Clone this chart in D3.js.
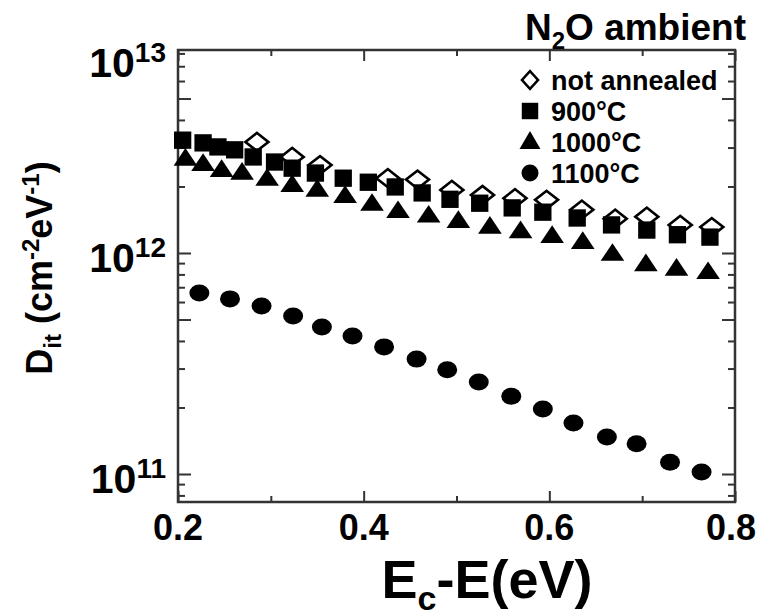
<!DOCTYPE html>
<html>
<head>
<meta charset="utf-8">
<script src="https://cdn.jsdelivr.net/npm/d3@7.9.0/dist/d3.min.js"></script>
<style>
  body { margin: 0; background: #fff; }
  svg { display: block; font-family: "Liberation Sans", Arial, sans-serif; font-weight: bold; }
</style>
</head>
<body>
<svg id="chart" width="758" height="616"></svg>
<script>
// Data (x in eV, Dit in cm^-2 eV^-1)
const notAnnealedX = [0.285, 0.323, 0.353, 0.426, 0.458, 0.495, 0.528, 0.563, 0.597, 0.635, 0.671, 0.705, 0.741, 0.775];
const notAnnealedY = [3.18e12, 2.72e12, 2.50e12, 2.18e12, 2.15e12, 1.93e12, 1.83e12, 1.77e12, 1.74e12, 1.57e12, 1.43e12, 1.46e12, 1.34e12, 1.31e12];

const t900X = [0.205, 0.227, 0.243, 0.261, 0.281, 0.304, 0.323, 0.348, 0.378, 0.405, 0.434, 0.463, 0.493, 0.525, 0.560, 0.593, 0.630, 0.667, 0.705, 0.738, 0.773];
const t900Y = [3.24e12, 3.15e12, 3.02e12, 2.93e12, 2.72e12, 2.58e12, 2.42e12, 2.30e12, 2.18e12, 2.09e12, 1.99e12, 1.87e12, 1.75e12, 1.68e12, 1.60e12, 1.53e12, 1.44e12, 1.34e12, 1.27e12, 1.21e12, 1.18e12];

const t1000X = [0.208, 0.227, 0.247, 0.269, 0.296, 0.323, 0.350, 0.380, 0.409, 0.437, 0.470, 0.502, 0.536, 0.569, 0.603, 0.636, 0.668, 0.704, 0.737, 0.771];
const t1000Y = [2.64e12, 2.50e12, 2.35e12, 2.28e12, 2.14e12, 2.01e12, 1.91e12, 1.79e12, 1.65e12, 1.53e12, 1.46e12, 1.38e12, 1.30e12, 1.24e12, 1.18e12, 1.11e12, 0.98e12, 0.88e12, 0.84e12, 0.81e12];

const t1100X = [0.223, 0.256, 0.290, 0.324, 0.355, 0.388, 0.422, 0.457, 0.490, 0.524, 0.559, 0.593, 0.626, 0.662, 0.694, 0.730, 0.764];
const t1100Y = [6.59e11, 6.20e11, 5.75e11, 5.19e11, 4.62e11, 4.21e11, 3.76e11, 3.31e11, 2.96e11, 2.61e11, 2.25e11, 1.97e11, 1.70e11, 1.47e11, 1.37e11, 1.13e11, 1.02e11];

const legendLabels = ["not annealed", "900°C", "1000°C", "1100°C"];
const xMajorTicks = [0.2, 0.4, 0.6, 0.8];
const xMinorTicks = [0.3, 0.5, 0.7];
const yDecades = [1e11, 1e12, 1e13];
const yExponents = ["11", "12", "13"];

const svg = d3.select("#chart");
const W = 758;
const pLeft = 178, pRight = 735, pTop = 50, pBottom = 502;

const x = d3.scaleLinear().domain([0.2, 0.8]).range([pLeft, pRight]);
// 1e11 -> 474px, 1e12 -> 253px; frame extends a bit past both
const y = d3.scaleLog().domain([1e11, 1e12]).range([474, 253]);
y.domain([y.invert(pBottom), y.invert(pTop)]).range([pBottom, pTop]);

const axisColor = "#333";

// minor log ticks inside the frame
const yMinor = [], yMid = [];
for (let e = 10; e <= 12; e++) {
  for (let m = 2; m <= 9; m++) {
    const v = m * Math.pow(10, e);
    if (v < y.domain()[0] || v > y.domain()[1]) continue;
    (m === 5 ? yMid : yMinor).push(v);
  }
}
const yMajorIn = yDecades.filter(v => v >= y.domain()[0] && v <= y.domain()[1]);

function styleAxis(g) {
  g.select(".domain").remove();
  g.selectAll("line").attr("stroke", axisColor).attr("stroke-width", 2);
  g.selectAll("text").remove();
}

// x axes (bottom + top), ticks inward
[[d3.axisBottom, pBottom], [d3.axisTop, pTop]].forEach(([fn, yy]) => {
  svg.append("g").attr("transform", `translate(0,${yy})`)
    .call(fn(x).tickValues(xMajorTicks).tickSize(-11)).call(styleAxis);
  svg.append("g").attr("transform", `translate(0,${yy})`)
    .call(fn(x).tickValues(xMinorTicks).tickSize(-6)).call(styleAxis);
});

// y axes (left + right), ticks inward
[[d3.axisLeft, pLeft], [d3.axisRight, pRight]].forEach(([fn, xx]) => {
  svg.append("g").attr("transform", `translate(${xx},0)`)
    .call(fn(y).tickValues(yMajorIn.concat(yMid)).tickSize(-13)).call(styleAxis);
  svg.append("g").attr("transform", `translate(${xx},0)`)
    .call(fn(y).tickValues(yMinor).tickSize(-7)).call(styleAxis);
});

// frame
svg.append("rect")
  .attr("x", pLeft).attr("y", pTop)
  .attr("width", pRight - pLeft).attr("height", pBottom - pTop)
  .attr("fill", "none").attr("stroke", axisColor).attr("stroke-width", 2.5);

// x tick labels (last one pulled in so it stays on the page)
svg.append("g").selectAll("text").data(xMajorTicks).join("text")
  .attr("x", d => x(d)).attr("y", pBottom + 38)
  .attr("text-anchor", "middle").attr("font-size", 36)
  .text(d => d.toFixed(1))
  .each(function () {
    const half = this.getComputedTextLength() / 2;
    const cx = +this.getAttribute("x");
    if (cx + half > W - 2) this.setAttribute("x", W - 2 - half);
  });

// y tick labels (10^n); the 10^13 label sits at the top of the frame
const yLab = svg.append("g").selectAll("text").data(yDecades).join("text")
  .attr("x", 166)
  .attr("y", d => (d > y.domain()[1] ? pTop + 8 : y(d)) + 19)
  .attr("text-anchor", "end")
  .attr("font-size", 41);
yLab.append("tspan").text("10");
yLab.append("tspan").attr("dy", -15).attr("font-size", 28).text((d, i) => yExponents[i]);

// axis titles
const yt = svg.append("text")
  .attr("transform", "translate(52,268) rotate(-90)")
  .attr("text-anchor", "middle").attr("font-size", 36);
yt.append("tspan").text("D");
yt.append("tspan").attr("dy", 9).attr("font-size", 24).text("it");
yt.append("tspan").attr("dy", -9).text(" (cm");
yt.append("tspan").attr("dy", -13).attr("font-size", 24).text("-2");
yt.append("tspan").attr("dy", 13).text("eV");
yt.append("tspan").attr("dy", -13).attr("font-size", 24).text("-1");
yt.append("tspan").attr("dy", 13).text(")");

const xt = svg.append("text")
  .attr("x", 487).attr("y", 598)
  .attr("text-anchor", "middle").attr("font-size", 54);
xt.append("tspan").text("E");
xt.append("tspan").attr("dy", 12).attr("font-size", 34).text("c");
xt.append("tspan").attr("dy", -12).text("-E(eV)");

// title
const tt = svg.append("text")
  .attr("x", 746).attr("y", 40)
  .attr("text-anchor", "end").attr("font-size", 37);
tt.append("tspan").text("N");
tt.append("tspan").attr("dy", 9).attr("font-size", 24).text("2");
tt.append("tspan").attr("dy", -9).text("O ambient");

// markers
const sym = {
  diamond: d3.symbol().type(d3.symbolSquare).size(200),
  square: d3.symbol().type(d3.symbolSquare).size(300),
  triangle: d3.symbol().type(d3.symbolTriangle).size(200),
};

function drawSeries(xs, ys, kind) {
  const pts = xs.map((v, i) => [v, ys[i]]);
  const g = svg.append("g");
  if (kind === "circle") {
    g.selectAll("ellipse").data(pts).join("ellipse")
      .attr("cx", d => x(d[0])).attr("cy", d => y(d[1]))
      .attr("rx", 10).attr("ry", 8.5).attr("fill", "#000");
  } else if (kind === "diamond") {
    g.selectAll("path").data(pts).join("path")
      .attr("d", sym.diamond)
      .attr("transform", d => `translate(${x(d[0])},${y(d[1])}) scale(1.15,0.9) rotate(45)`)
      .attr("fill", "#fff").attr("stroke", "#000").attr("stroke-width", 2.6);
  } else {
    g.selectAll("path").data(pts).join("path")
      .attr("d", sym[kind])
      .attr("transform", d => `translate(${x(d[0])},${y(d[1])})` + (kind === "triangle" ? " scale(1.1,0.95)" : ""))
      .attr("fill", "#000");
  }
}

drawSeries(notAnnealedX, notAnnealedY, "diamond");
drawSeries(t900X, t900Y, "square");
drawSeries(t1000X, t1000Y, "triangle");
drawSeries(t1100X, t1100Y, "circle");

// legend
const kinds = ["diamond", "square", "triangle", "circle"];
const lg = svg.append("g").selectAll("g").data(legendLabels).join("g")
  .attr("transform", (d, i) => `translate(530,${80 + i * 31})`);
lg.each(function (d, i) {
  const g = d3.select(this);
  const k = kinds[i];
  if (k === "circle") {
    g.append("ellipse").attr("rx", 8.5).attr("ry", 8.5).attr("fill", "#000");
  } else if (k === "diamond") {
    g.append("path").attr("d", d3.symbol().type(d3.symbolSquare).size(130))
      .attr("transform", "scale(1,1.1) rotate(45)")
      .attr("fill", "#fff").attr("stroke", "#000").attr("stroke-width", 2.4);
  } else if (k === "square") {
    g.append("path").attr("d", d3.symbol().type(d3.symbolSquare).size(270)).attr("fill", "#000");
  } else {
    g.append("path").attr("d", d3.symbol().type(d3.symbolTriangle).size(190))
      .attr("transform", "translate(0,1)").attr("fill", "#000");
  }
});
lg.append("text").attr("x", 21).attr("y", 10).attr("font-size", 27).text(d => d);
</script>
</body>
</html>
